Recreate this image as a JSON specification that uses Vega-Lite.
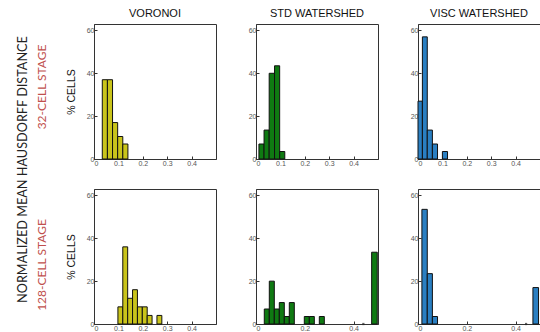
{
  "$schema": "https://vega.github.io/schema/vega-lite/v6.json",
  "padding": {"left": 17, "top": 7, "right": 0, "bottom": 0},
  "background": "white",
  "config": {
    "view": {"stroke": "#333", "strokeWidth": 1},
    "axis": {"labelFont": "Liberation Sans", "labelFontSize": 7, "labelColor": "#555", "domainColor": "#333", "tickColor": "#333", "tickSize": -3, "labelPadding": 3, "grid": false, "titleFont": "Liberation Sans", "titleFontSize": 10.5, "titleFontWeight": "normal", "titleColor": "#111", "titlePadding": 10, "format": ".1~f"},
    "title": {"font": "Liberation Sans", "fontSize": 11, "fontWeight": "normal", "color": "#111", "offset": 5, "anchor": "middle"},
    "concat": {"spacing": 30}
  },
  "title": {"text": "NORMALIZED MEAN HAUSDORFF DISTANCE", "orient": "left", "anchor": "middle", "font": "Lato", "fontSize": 12.7, "fontWeight": "normal", "color": "#222", "offset": 6},
  "spacing": 21,
  "vconcat": [
    {
      "title": {"text": "32-CELL STAGE", "orient": "left", "anchor": "middle", "font": "Lato", "fontSize": 12, "fontWeight": "normal", "color": "#c0504d", "offset": 17},
      "spacing": 30,
      "hconcat": [
        {
          "width": 122, "height": 135,
          "title": "VORONOI",
          "data": {"values": [
            {"x0": 0.034, "x1": 0.055, "pct": 37},
            {"x0": 0.055, "x1": 0.076, "pct": 37},
            {"x0": 0.076, "x1": 0.097, "pct": 17},
            {"x0": 0.097, "x1": 0.118, "pct": 10.5},
            {"x0": 0.118, "x1": 0.139, "pct": 7}
          ]},
          "mark": {"type": "bar", "fill": "#c9c41b", "stroke": "#111", "strokeWidth": 1},
          "encoding": {
            "x": {"field": "x0", "type": "quantitative", "scale": {"domain": [0, 0.5], "nice": false}, "axis": {"values": [0, 0.1, 0.2, 0.3, 0.4], "title": null}},
            "x2": {"field": "x1"},
            "y": {"field": "pct", "type": "quantitative", "scale": {"domain": [0, 63], "nice": false}, "axis": {"values": [0, 20, 40, 60], "title": "% CELLS"}},
            "y2": {"datum": 0}
          }
        },
        {
          "width": 122, "height": 135,
          "title": "STD WATERSHED",
          "data": {"values": [
            {"x0": 0.012, "x1": 0.033, "pct": 7},
            {"x0": 0.033, "x1": 0.054, "pct": 13.5},
            {"x0": 0.054, "x1": 0.076, "pct": 40},
            {"x0": 0.076, "x1": 0.097, "pct": 43.5},
            {"x0": 0.097, "x1": 0.118, "pct": 3.5}
          ]},
          "mark": {"type": "bar", "fill": "#0f7a12", "stroke": "#111", "strokeWidth": 1},
          "encoding": {
            "x": {"field": "x0", "type": "quantitative", "scale": {"domain": [0, 0.5], "nice": false}, "axis": {"values": [0, 0.1, 0.2, 0.3, 0.4], "title": null}},
            "x2": {"field": "x1"},
            "y": {"field": "pct", "type": "quantitative", "scale": {"domain": [0, 63], "nice": false}, "axis": {"values": [0, 20, 40, 60], "title": null}},
            "y2": {"datum": 0}
          }
        },
        {
          "width": 122, "height": 135,
          "title": "VISC WATERSHED",
          "data": {"values": [
            {"x0": 0.0, "x1": 0.018, "pct": 27},
            {"x0": 0.018, "x1": 0.038, "pct": 57},
            {"x0": 0.038, "x1": 0.059, "pct": 13.5},
            {"x0": 0.059, "x1": 0.08, "pct": 7},
            {"x0": 0.1, "x1": 0.121, "pct": 3.5}
          ]},
          "mark": {"type": "bar", "fill": "#2a7fc2", "stroke": "#111", "strokeWidth": 1},
          "encoding": {
            "x": {"field": "x0", "type": "quantitative", "scale": {"domain": [0, 0.5], "nice": false}, "axis": {"values": [0, 0.1, 0.2, 0.3, 0.4], "title": null}},
            "x2": {"field": "x1"},
            "y": {"field": "pct", "type": "quantitative", "scale": {"domain": [0, 63], "nice": false}, "axis": {"values": [0, 20, 40, 60], "title": null}},
            "y2": {"datum": 0}
          }
        }
      ]
    },
    {
      "title": {"text": "128-CELL STAGE", "orient": "left", "anchor": "middle", "font": "Lato", "fontSize": 12, "fontWeight": "normal", "color": "#c0504d", "offset": 17, "dx": -5},
      "spacing": 30,
      "hconcat": [
        {
          "width": 122, "height": 135,
          "data": {"values": [
            {"x0": 0.098, "x1": 0.118, "pct": 8},
            {"x0": 0.118, "x1": 0.138, "pct": 36},
            {"x0": 0.138, "x1": 0.158, "pct": 12},
            {"x0": 0.158, "x1": 0.178, "pct": 16},
            {"x0": 0.178, "x1": 0.198, "pct": 8},
            {"x0": 0.198, "x1": 0.218, "pct": 8},
            {"x0": 0.218, "x1": 0.238, "pct": 4},
            {"x0": 0.258, "x1": 0.278, "pct": 4}
          ]},
          "mark": {"type": "bar", "fill": "#c9c41b", "stroke": "#111", "strokeWidth": 1},
          "encoding": {
            "x": {"field": "x0", "type": "quantitative", "scale": {"domain": [0, 0.5], "nice": false}, "axis": {"values": [0, 0.1, 0.2, 0.3, 0.4], "title": null}},
            "x2": {"field": "x1"},
            "y": {"field": "pct", "type": "quantitative", "scale": {"domain": [0, 63], "nice": false}, "axis": {"values": [0, 20, 40, 60], "title": "% CELLS"}},
            "y2": {"datum": 0}
          }
        },
        {
          "width": 122, "height": 135,
          "data": {"values": [
            {"x0": 0.034, "x1": 0.0545, "pct": 7, "kind": "bar"},
            {"x0": 0.0545, "x1": 0.075, "pct": 20, "kind": "bar"},
            {"x0": 0.075, "x1": 0.0955, "pct": 7, "kind": "bar"},
            {"x0": 0.0955, "x1": 0.116, "pct": 10, "kind": "bar"},
            {"x0": 0.116, "x1": 0.1365, "pct": 3.5, "kind": "bar"},
            {"x0": 0.1365, "x1": 0.157, "pct": 10, "kind": "bar"},
            {"x0": 0.198, "x1": 0.2185, "pct": 3.5, "kind": "bar"},
            {"x0": 0.2185, "x1": 0.239, "pct": 3.5, "kind": "bar"},
            {"x0": 0.2595, "x1": 0.28, "pct": 3.5, "kind": "bar"},
            {"x0": 0.474, "x1": 0.497, "pct": 33.5, "kind": "bar"},
            {"x0": 0.44, "x1": 0.44, "pct": 0, "kind": "dot"}
          ]},
          "layer": [
            {
              "transform": [{"filter": "datum.kind === 'bar'"}],
              "mark": {"type": "bar", "fill": "#0f7a12", "stroke": "#111", "strokeWidth": 1},
              "encoding": {
                "x": {"field": "x0", "type": "quantitative", "scale": {"domain": [0, 0.5], "nice": false}, "axis": {"values": [0, 0.1, 0.2, 0.3, 0.4], "title": null}},
                "x2": {"field": "x1"},
                "y": {"field": "pct", "type": "quantitative", "scale": {"domain": [0, 63], "nice": false}, "axis": {"values": [0, 20, 40, 60], "title": null}},
                "y2": {"datum": 0}
              }
            },
            {
              "transform": [{"filter": "datum.kind === 'dot'"}],
              "mark": {"type": "point", "filled": true, "color": "#222", "size": 5, "shape": "square"},
              "encoding": {
                "x": {"field": "x0", "type": "quantitative"},
                "y": {"field": "pct", "type": "quantitative"}
              }
            }
          ]
        },
        {
          "width": 122, "height": 135,
          "data": {"values": [
            {"x0": 0.016, "x1": 0.038, "pct": 53.5, "kind": "bar"},
            {"x0": 0.038, "x1": 0.059, "pct": 23.5, "kind": "bar"},
            {"x0": 0.059, "x1": 0.08, "pct": 3.5, "kind": "bar"},
            {"x0": 0.471, "x1": 0.494, "pct": 17, "kind": "bar"},
            {"x0": 0.443, "x1": 0.443, "pct": 0, "kind": "dot"}
          ]},
          "layer": [
            {
              "transform": [{"filter": "datum.kind === 'bar'"}],
              "mark": {"type": "bar", "fill": "#2a7fc2", "stroke": "#111", "strokeWidth": 1},
              "encoding": {
                "x": {"field": "x0", "type": "quantitative", "scale": {"domain": [0, 0.5], "nice": false}, "axis": {"values": [0, 0.1, 0.2, 0.3, 0.4], "title": null}},
                "x2": {"field": "x1"},
                "y": {"field": "pct", "type": "quantitative", "scale": {"domain": [0, 63], "nice": false}, "axis": {"values": [0, 20, 40, 60], "title": null}},
                "y2": {"datum": 0}
              }
            },
            {
              "transform": [{"filter": "datum.kind === 'dot'"}],
              "mark": {"type": "point", "filled": true, "color": "#222", "size": 5, "shape": "square"},
              "encoding": {
                "x": {"field": "x0", "type": "quantitative"},
                "y": {"field": "pct", "type": "quantitative"}
              }
            }
          ]
        }
      ]
    }
  ]
}
